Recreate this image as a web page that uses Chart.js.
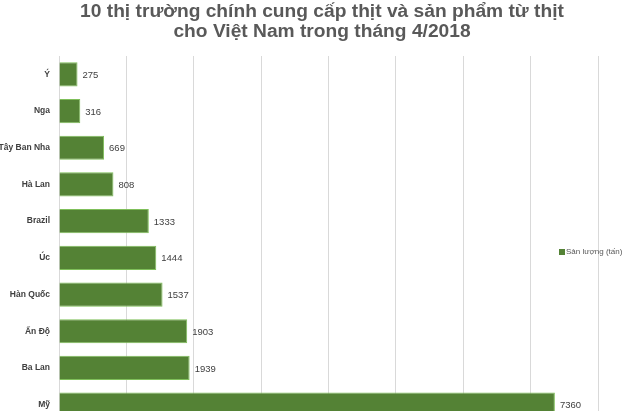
<!DOCTYPE html>
<html>
<head>
<meta charset="utf-8">
<script src="https://cdn.jsdelivr.net/npm/chart.js@4"></script>
<style>
  html, body { margin: 0; padding: 0; background: #fff; overflow: hidden; }
  #wrap { width: 626px; height: 440px; position: relative; }
</style>
</head>
<body>
<div id="wrap"><canvas id="chart"></canvas></div>
<script>
const categories = ['Ý', 'Nga', 'Tây Ban Nha', 'Hà Lan', 'Brazil', 'Úc', 'Hàn Quốc', 'Ấn Độ', 'Ba Lan', 'Mỹ'];
const values = [275, 316, 669, 808, 1333, 1444, 1537, 1903, 1939, 7360];
const seriesName = 'Sản lượng (tấn)';
const titleLines = ['10 thị trường chính cung cấp thịt và sản phẩm từ thịt', 'cho Việt Nam trong tháng 4/2018'];

// title is a bit right of the canvas centre in the original, so draw it here
const titleText = {
  id: 'titleText',
  afterDraw(chart) {
    const ctx = chart.ctx;
    ctx.save();
    ctx.font = 'bold 19.2px "Liberation Sans", Arial, sans-serif';
    ctx.fillStyle = '#595959';
    ctx.textAlign = 'center';
    ctx.textBaseline = 'alphabetic';
    titleLines.forEach((line, i) => ctx.fillText(line, 322, 17 + i * 20));
    ctx.restore();
  }
};

// value labels next to each bar
const barLabels = {
  id: 'barLabels',
  afterDatasetsDraw(chart) {
    const ctx = chart.ctx;
    const meta = chart.getDatasetMeta(0);
    ctx.save();
    ctx.font = '9.5px "Liberation Sans", Arial, sans-serif';
    ctx.fillStyle = '#404040';
    ctx.textBaseline = 'middle';
    meta.data.forEach((bar, i) => {
      ctx.fillText(chart.data.datasets[0].data[i], bar.x + 5, bar.y + 1);
    });
    ctx.restore();
  }
};

// legend sits over the plot on the right, like the original
const sideLegend = {
  id: 'sideLegend',
  afterDraw(chart) {
    const ctx = chart.ctx;
    const ds = chart.data.datasets[0];
    ctx.save();
    ctx.fillStyle = ds.backgroundColor;
    ctx.fillRect(559, 249, 6, 6);
    ctx.font = '8px "Liberation Sans", Arial, sans-serif';
    ctx.fillStyle = '#595959';
    ctx.textBaseline = 'middle';
    ctx.fillText(ds.label, 566, 252);
    ctx.restore();
  }
};

new Chart(document.getElementById('chart'), {
  type: 'bar',
  data: {
    labels: categories,
    datasets: [{
      label: seriesName,
      data: values,
      backgroundColor: '#548235',
      borderColor: '#7fbf5a',
      borderWidth: 1,
      categoryPercentage: 1,
      barPercentage: 0.66
    }]
  },
  options: {
    indexAxis: 'y',
    responsive: true,
    maintainAspectRatio: false,
    animation: false,
    layout: { padding: { left: 0, right: 28, top: 56, bottom: 17 } },
    plugins: {
      legend: { display: false },
      tooltip: { enabled: false },
      title: { display: false }
    },
    scales: {
      x: {
        min: 0,
        max: 8000,
        ticks: { display: false, stepSize: 1000 },
        grid: { color: '#d9d9d9', drawTicks: false },
        border: { display: false }
      },
      y: {
        ticks: {
          color: '#404040',
          padding: 9,
          font: { family: '"Liberation Sans", Arial, sans-serif', size: 8.5, weight: 'bold' }
        },
        grid: { display: false, drawTicks: false },
        border: { display: true, color: '#d9d9d9' },
        afterFit(scale) { scale.width = 59; }
      }
    }
  },
  plugins: [titleText, barLabels, sideLegend]
});
</script>
</body>
</html>
